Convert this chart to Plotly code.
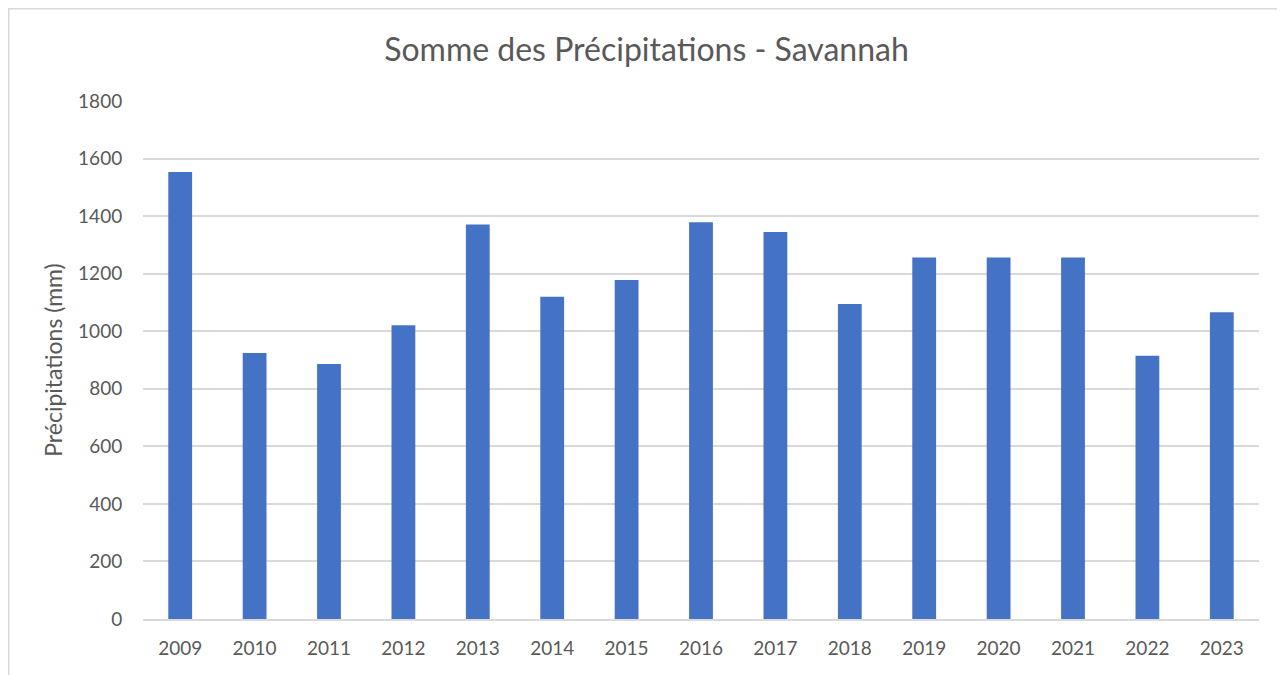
import plotly.graph_objects as go

years = ["2009", "2010", "2011", "2012", "2013", "2014", "2015", "2016",
         "2017", "2018", "2019", "2020", "2021", "2022", "2023"]
precip = [1553, 924, 886, 1021, 1371, 1120, 1178, 1379,
          1345, 1095, 1256, 1256, 1256, 915, 1066]
y_ticks = [0, 200, 400, 600, 800, 1000, 1200, 1400, 1600, 1800]

# page body has an 8px margin; figure sized to fit in the window
W, H = 1277, 667
L, R, T, B = 135, 26, 93, 56
pw, ph = W - L - R, H - T - B

font_family = "Lato, Carlito, Open Sans, sans-serif"
txt = "#595959"

fig = go.Figure(go.Bar(x=years, y=precip, marker=dict(color="#4472c4", line=dict(width=0)),
                       width=0.32))

fig.update_layout(
    width=W, height=H,
    margin=dict(l=L, r=R, t=T, b=B, autoexpand=False),
    paper_bgcolor="white", plot_bgcolor="white",
    title=dict(text="Somme des Précipitations - Savannah", x=638.5 / W, xref="container",
               xanchor="center", y=1 - 42 / H, yanchor="middle", yref="container",
               font=dict(family=font_family, size=32, color=txt)),
    font=dict(family=font_family, color=txt),
    showlegend=False,
)

fig.update_xaxes(type="category", tickfont=dict(size=19, color=txt), showgrid=False,
                 showline=True, linecolor="#d9d9d9", linewidth=1.5, ticks="outside",
                 tickcolor="rgba(0,0,0,0)", ticklen=11)
fig.update_yaxes(range=[0, 1800], tickvals=y_ticks, tickfont=dict(size=19, color=txt),
                 showgrid=True, gridcolor="#d9d9d9", gridwidth=1.5, zeroline=False,
                 showline=False, ticks="outside", tickcolor="rgba(0,0,0,0)", ticklen=16,
                 title=dict(text="Précipitations (mm)", font=dict(size=23, color=txt),
                            standoff=9))

# chart-area border (light gray)
fig.add_shape(type="rect", xref="paper", yref="paper",
              x0=(0.75 - L) / pw, x1=(1400 - L) / pw,
              y0=(H - B - 800) / ph, y1=(H - B - 0.75) / ph,
              line=dict(color="#d9d9d9", width=1.5), fillcolor="rgba(0,0,0,0)", layer="below")

fig.write_html("out.html")
